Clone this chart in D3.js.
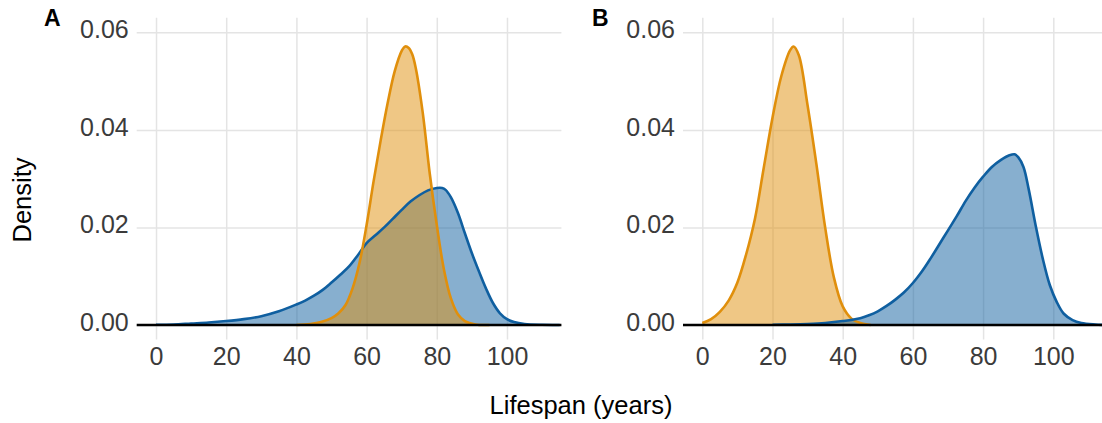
<!DOCTYPE html>
<html>
<head>
<meta charset="utf-8">
<script src="https://cdn.jsdelivr.net/npm/d3@7"></script>
<style>
  html, body { margin: 0; padding: 0; background: #ffffff; }
  svg { display: block; font-family: "Liberation Sans", Arial, Helvetica, sans-serif; }
  .grid line { stroke: #e4e4e4; stroke-width: 1.5; }
  .tick text { fill: #3b3b3b; font-size: 25px; }
</style>
</head>
<body>
<svg id="chart" width="1102" height="423"></svg>
<script>
// Lifespan density estimates, read as (age in years, density) pairs.

// Panel A, blue population
const aBlueAge = [0, 5, 10, 15, 20, 25, 30, 35, 40, 42.5, 45, 47.5, 50, 52.5, 55, 57.5, 60, 62.5, 65, 67.5, 70, 72.5, 75, 77.5, 80, 81.5, 82.5, 84, 86, 88, 90, 92, 94, 96, 98, 100, 102, 105, 110, 115];
const aBlueDens = [0.00005, 0.0001, 0.0003, 0.0005, 0.0008, 0.0012, 0.0018, 0.0028, 0.0042, 0.0050, 0.0060, 0.0072, 0.0087, 0.0103, 0.0120, 0.0143, 0.0168, 0.0184, 0.0200, 0.0218, 0.0236, 0.0253, 0.0266, 0.0276, 0.0281, 0.0281, 0.0277, 0.0262, 0.0230, 0.0188, 0.0147, 0.0110, 0.0075, 0.0045, 0.0024, 0.0012, 0.0006, 0.0002, 0.00003, 0];

// Panel A, orange population
const aOrangeAge = [40, 44, 47, 50, 52, 54, 56, 58, 60, 62, 64, 66, 68, 70, 71, 72, 73, 74, 76, 78, 80, 82, 84, 86, 88, 91, 95];
const aOrangeDens = [0, 0.0002, 0.0006, 0.0014, 0.0024, 0.0041, 0.0075, 0.0128, 0.0205, 0.0295, 0.0378, 0.0455, 0.0520, 0.0562, 0.0571, 0.0568, 0.0555, 0.0527, 0.0435, 0.0310, 0.0205, 0.0115, 0.0055, 0.0022, 0.0008, 0.0001, 0];

// Panel B, blue population
const bBlueAge = [20, 25, 30, 35, 40, 45, 47.5, 50, 52.5, 55, 57.5, 60, 62.5, 65, 67.5, 70, 72.5, 75, 77.5, 80, 82.5, 85, 87.5, 89, 90, 91.5, 93, 95, 97, 99, 101, 103, 105.5, 108, 112, 115];
const bBlueDens = [0.00005, 0.0001, 0.0002, 0.0004, 0.0008, 0.0014, 0.0020, 0.0028, 0.0039, 0.0052, 0.0067, 0.0086, 0.0109, 0.0136, 0.0165, 0.0194, 0.0223, 0.0254, 0.0281, 0.0304, 0.0324, 0.0338, 0.0348, 0.0350, 0.0344, 0.0324, 0.0278, 0.0203, 0.0136, 0.0082, 0.0047, 0.0023, 0.0010, 0.0004, 0.0001, 0];

// Panel B, orange population
const bOrangeAge = [0, 2.5, 5, 7.5, 10, 12.5, 15, 17.5, 20, 22.5, 25, 26, 27.5, 30, 32.5, 35, 37.5, 40, 42.5, 45, 48];
const bOrangeDens = [0.0004, 0.0012, 0.0027, 0.0050, 0.0087, 0.0145, 0.0218, 0.0322, 0.0425, 0.0510, 0.0563, 0.0571, 0.0553, 0.0450, 0.0330, 0.0200, 0.0097, 0.0038, 0.0013, 0.0004, 0];

// Axis ticks and labels
const xTicks = [0, 20, 40, 60, 80, 100];
const yTicks = [0, 0.02, 0.04, 0.06];
const panelTags = ["A", "B"];
const xTitle = "Lifespan (years)";
const yTitle = "Density";

const blue = "#0f5fa0";
const orange = "#e08f0c";

const svg = d3.select("#chart");

const plotTop = 17.7, plotBottom = 339.6;
const panels = [
  { tag: panelTags[0], left: 136.7, right: 561.4, tagX: 44,
    series: [
      { age: aBlueAge, dens: aBlueDens, color: blue },
      { age: aOrangeAge, dens: aOrangeDens, color: orange }
    ] },
  { tag: panelTags[1], left: 683.0, right: 1107.7, tagX: 592,
    series: [
      { age: bOrangeAge, dens: bOrangeDens, color: orange },
      { age: bBlueAge, dens: bBlueDens, color: blue }
    ] }
];

panels.forEach(p => {
  const x = d3.scaleLinear().domain([-5.5, 115.5]).range([p.left, p.right]);
  const y = d3.scaleLinear().domain([-0.003, 0.063]).range([plotBottom, plotTop]);
  const g = svg.append("g");

  // horizontal grid + y labels
  const yAxis = g.append("g")
    .attr("class", "grid")
    .attr("transform", `translate(${p.left},0)`)
    .call(d3.axisLeft(y).tickValues(yTicks).tickFormat(d3.format(".2f"))
      .tickSize(-(p.right - p.left)).tickPadding(8));
  yAxis.select(".domain").remove();
  yAxis.selectAll(".tick text").attr("dy", "0.22em");

  // vertical grid + x labels
  const xAxis = g.append("g")
    .attr("class", "grid")
    .attr("transform", `translate(0,${plotBottom})`)
    .call(d3.axisBottom(x).tickValues(xTicks).tickFormat(d3.format("d"))
      .tickSize(-(plotBottom - plotTop)).tickPadding(8));
  xAxis.select(".domain").remove();

  const rows = p.series.map(s => s.age.map((a, k) => ({ a, d: s.dens[k] })));

  const curve = d3.curveCatmullRom.alpha(0.5);
  const area = d3.area()
    .x(d => x(d.a)).y0(y(0)).y1(d => y(d.d))
    .curve(curve);
  const line = d3.line()
    .x(d => x(d.a)).y(d => y(d.d))
    .curve(curve);

  p.series.forEach((s, k) => {
    g.append("path").datum(rows[k])
      .attr("d", area)
      .attr("fill", s.color)
      .attr("fill-opacity", 0.5);
  });
  p.series.forEach((s, k) => {
    g.append("path").datum(rows[k])
      .attr("d", line)
      .attr("fill", "none")
      .attr("stroke", s.color)
      .attr("stroke-width", 2.6)
      .attr("stroke-linejoin", "round");
  });

  // zero baseline
  g.append("line")
    .attr("x1", p.left).attr("x2", p.right)
    .attr("y1", y(0)).attr("y2", y(0))
    .attr("stroke", "#000").attr("stroke-width", 2.6);

  // panel tag
  svg.append("text")
    .attr("x", p.tagX)
    .attr("y", 25.7)
    .attr("font-size", 23)
    .attr("font-weight", "bold")
    .attr("fill", "#000")
    .text(p.tag);
});

// axis titles
svg.append("text")
  .attr("x", 581).attr("y", 413.5)
  .attr("text-anchor", "middle")
  .attr("font-size", 25.5)
  .attr("fill", "#000")
  .text(xTitle);

svg.append("text")
  .attr("transform", "translate(31,200) rotate(-90)")
  .attr("text-anchor", "middle")
  .attr("font-size", 25.5)
  .attr("fill", "#000")
  .text(yTitle);
</script>
</body>
</html>
